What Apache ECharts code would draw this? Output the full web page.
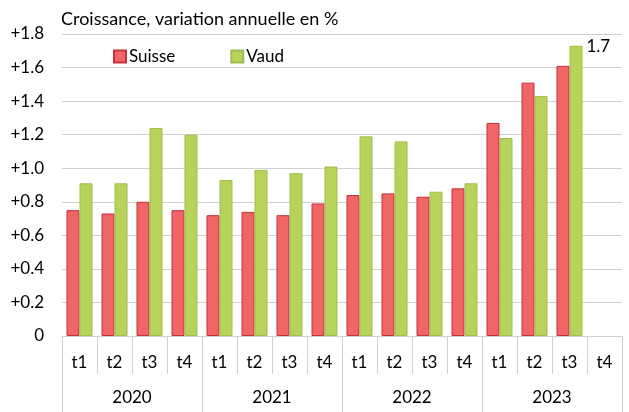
<!DOCTYPE html>
<html>
<head>
<meta charset="utf-8">
<script src="https://cdn.jsdelivr.net/npm/echarts@6/dist/echarts.min.js"></script>
<style>
  html, body { margin: 0; padding: 0; background: #fff; }
  #chart { width: 629px; height: 412px; }
</style>
</head>
<body>
<div id="chart"></div>
<script>
// quarters and years of the two-level x axis
const quarters = ['t1', 't2', 't3', 't4', 't1', 't2', 't3', 't4', 't1', 't2', 't3', 't4', 't1', 't2', 't3', 't4']
const years = ['2020', '2021', '2022', '2023']
// growth, annual change in %
const suisse = [0.75, 0.73, 0.80, 0.75, 0.72, 0.74, 0.72, 0.79, 0.84, 0.85, 0.83, 0.88, 1.27, 1.51, 1.61, null]
const vaud = [0.91, 0.91, 1.24, 1.20, 0.93, 0.99, 0.97, 1.01, 1.19, 1.16, 0.86, 0.91, 1.18, 1.43, 1.73, null]
const yTicks = { min: 0, max: 1.8, interval: 0.2 }

const font = 'Lato, "Open Sans", sans-serif'
const fs = 17
const gridColor = '#d0d0d0'

let myChart = echarts.init(document.getElementById('chart'))
let vaudData = vaud.map(function (v, i) {
  if (i === 14) {
    return {
      value: v,
      label: {
        show: true,
        position: ['100%', 0],
        align: 'left',
        verticalAlign: 'middle',
        offset: [4, 1],
        formatter: '1.7',
        fontSize: fs,
        fontFamily: font,
        color: '#000'
      }
    }
  }
  return v
})

let option = {
  animation: false,
  title: {
    text: 'Croissance, variation annuelle en %',
    left: 56,
    top: 5,
    textStyle: { fontSize: 18, fontWeight: 'normal', color: '#000', fontFamily: font }
  },
  legend: {
    left: 108,
    top: 43,
    itemWidth: 12,
    itemHeight: 12,
    itemGap: 55,
    icon: 'rect',
    textStyle: { fontSize: fs, color: '#000', fontFamily: font, padding: [0, 0, 0, -2] },
    data: ['Suisse', 'Vaud']
  },
  grid: { left: 62, right: 7, top: 34, bottom: 76 },
  xAxis: [
    {
      type: 'category',
      data: quarters,
      position: 'bottom',
      axisLine: { show: true, lineStyle: { color: gridColor } },
      axisTick: { show: true, interval: 0, length: 38, lineStyle: { color: gridColor } },
      axisLabel: { interval: 0, margin: 18, fontSize: fs, color: '#000', fontFamily: font }
    },
    {
      type: 'category',
      data: years,
      position: 'bottom',
      axisLine: { show: false },
      axisTick: { show: true, interval: 0, length: 76, lineStyle: { color: gridColor } },
      axisLabel: { interval: 0, margin: 53, fontSize: fs, color: '#000', fontFamily: font }
    }
  ],
  yAxis: {
    type: 'value',
    min: yTicks.min,
    max: yTicks.max,
    interval: yTicks.interval,
    axisLine: { show: false },
    axisTick: { show: false },
    splitLine: { lineStyle: { color: gridColor } },
    axisLabel: {
      margin: 18,
      fontSize: fs,
      color: '#000',
      fontFamily: font,
      formatter: function (v) {
        return v === 0 ? '0' : '+' + v.toFixed(1)
      }
    }
  },
  series: [
    {
      name: 'Suisse',
      type: 'bar',
      xAxisIndex: 0,
      data: suisse,
      barWidth: 13,
      barGap: 0,
      itemStyle: { color: '#f06565', borderColor: '#c6303a', borderWidth: 1 }
    },
    {
      name: 'Vaud',
      type: 'bar',
      xAxisIndex: 0,
      data: vaudData,
      barWidth: 13,
      itemStyle: { color: '#b8d35a', borderColor: '#9fbd4e', borderWidth: 1 }
    }
  ]
}
myChart.setOption(option)
</script>
</body>
</html>
